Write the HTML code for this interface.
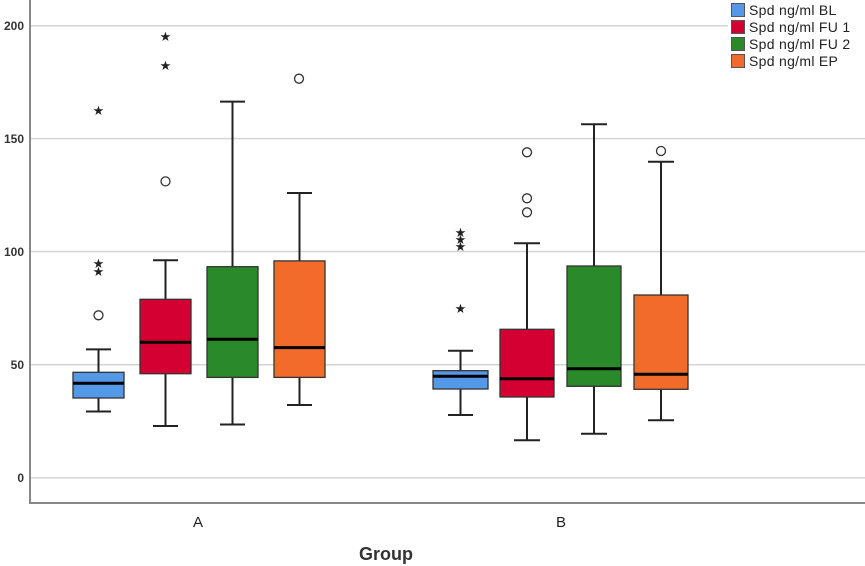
<!DOCTYPE html>
<html><head><meta charset="utf-8"><style>body{margin:0;background:#fff}svg{display:block}</style></head><body>
<svg width="865" height="566" xmlns="http://www.w3.org/2000/svg" font-family="Liberation Sans, sans-serif">
<g stroke="#d4d4d4" stroke-width="1.5">
<line x1="30" y1="25.8" x2="728" y2="25.8"/>
<line x1="30" y1="138.6" x2="865" y2="138.6"/>
<line x1="30" y1="251.5" x2="865" y2="251.5"/>
<line x1="30" y1="364.7" x2="865" y2="364.7"/>
<line x1="30" y1="477.9" x2="865" y2="477.9"/>
</g>
<g stroke="#888" stroke-width="2"><line x1="30" y1="0" x2="30" y2="503"/><line x1="29" y1="503" x2="865" y2="503"/></g>
<g font-size="12" fill="#333" text-anchor="end" font-weight="bold">
<text x="24" y="30">200</text><text x="24" y="143">150</text><text x="24" y="256">100</text><text x="24" y="369">50</text><text x="24" y="482">0</text>
</g>
<text x="198" y="527" font-size="15" text-anchor="middle" fill="#222">A</text>
<text x="561" y="527" font-size="15" text-anchor="middle" fill="#222">B</text>
<text x="386" y="560" font-size="18" font-weight="bold" text-anchor="middle" fill="#333">Group</text>
<g stroke="#222" stroke-width="2" fill="none">
<path d="M98.5 349.4V411.5M86 349.4H111M86 411.5H111"/>
<path d="M165.5 260.2V426M153 260.2H178M153 426H178"/>
<path d="M232.5 101.6V424.5M220 101.6H245M220 424.5H245"/>
<path d="M299.5 193V405M287 193H312M287 405H312"/>
<path d="M460.5 350.7V415M448 350.7H473M448 415H473"/>
<path d="M527 243.3V440.3M514 243.3H540M514 440.3H540"/>
<path d="M594 124.3V433.7M581 124.3H607M581 433.7H607"/>
<path d="M661 161.7V420.3M648 161.7H674M648 420.3H674"/>
</g>
<g stroke="#333" stroke-width="1.3">
<rect x="73" y="372.3" width="51" height="25.7" fill="#5499e8"/>
<rect x="140" y="299.3" width="51" height="74.4" fill="#d50032"/>
<rect x="207" y="266.7" width="51" height="110.7" fill="#2a8a2a"/>
<rect x="274" y="260.9" width="51" height="116.5" fill="#f26b2a"/>
<rect x="433" y="370.7" width="55" height="18.3" fill="#5499e8"/>
<rect x="500" y="329.3" width="54" height="67.7" fill="#d50032"/>
<rect x="567" y="266" width="54" height="120.3" fill="#2a8a2a"/>
<rect x="634" y="295" width="54" height="94.3" fill="#f26b2a"/>
</g>
<g stroke="#000" stroke-width="3">
<line x1="73" y1="383.2" x2="124" y2="383.2"/><line x1="140" y1="342.2" x2="191" y2="342.2"/>
<line x1="207" y1="339.3" x2="258" y2="339.3"/><line x1="274" y1="347.6" x2="325" y2="347.6"/>
<line x1="433" y1="376.3" x2="488" y2="376.3"/><line x1="500" y1="378.7" x2="554" y2="378.7"/>
<line x1="567" y1="368.7" x2="621" y2="368.7"/><line x1="634" y1="374.3" x2="688" y2="374.3"/>
</g>
<g fill="none" stroke="#333" stroke-width="1.3">
<circle cx="98.5" cy="315.3" r="4.5"/><circle cx="165.5" cy="181.4" r="4.5"/><circle cx="299" cy="78.7" r="4.5"/>
<circle cx="527" cy="152.3" r="4.5"/><circle cx="527" cy="198.3" r="4.5"/><circle cx="527" cy="212.3" r="4.5"/>
<circle cx="661" cy="151" r="4.5"/>
</g>
<g font-size="13" fill="#222" text-anchor="middle">
<text x="98.5" y="115">★</text><text x="98.5" y="268">★</text><text x="98.5" y="276">★</text>
<text x="165.5" y="41">★</text><text x="165.5" y="70">★</text>
<text x="460.5" y="237">★</text><text x="460.5" y="244">★</text><text x="460.5" y="251">★</text><text x="460.5" y="313">★</text>
</g>
<g stroke="#555" stroke-width="1">
<rect x="731.5" y="3.5" width="13" height="13" fill="#5499e8"/>
<rect x="731.5" y="20.5" width="13" height="13" fill="#d50032"/>
<rect x="731.5" y="37.5" width="13" height="13" fill="#2a8a2a"/>
<rect x="731.5" y="54.5" width="13" height="13" fill="#f26b2a"/>
</g>
<g font-size="14" fill="#222" letter-spacing="0.3">
<text x="749" y="15">Spd ng/ml BL</text><text x="749" y="32">Spd ng/ml FU 1</text>
<text x="749" y="49">Spd ng/ml FU 2</text><text x="749" y="66">Spd ng/ml EP</text>
</g>
</svg>
</body></html>
